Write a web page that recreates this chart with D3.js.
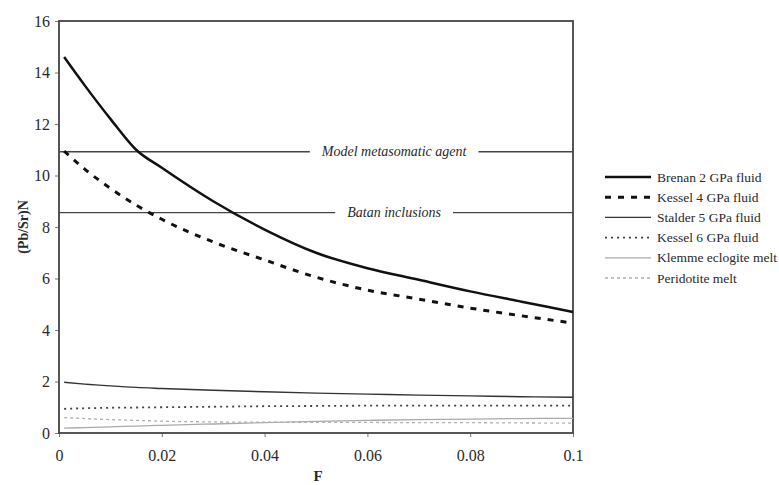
<!DOCTYPE html>
<html>
<head>
<meta charset="utf-8">
<script src="https://cdn.jsdelivr.net/npm/d3@7"></script>
<style>
  body { margin: 0; background: #fff; }
  svg text { font-family: "Liberation Serif", "Times New Roman", "DejaVu Serif", serif; fill: #2a2a2a; }
</style>
</head>
<body>
<svg id="chart" width="779" height="485"></svg>
<script>
// values
const fValues = [0.001, 0.005, 0.01, 0.015, 0.02, 0.03, 0.04, 0.05, 0.06, 0.07, 0.08, 0.09, 0.1];
const brenan2 = [14.6, 13.5, 12.2, 11.0, 10.3, 9.0, 7.9, 7.0, 6.4, 5.95, 5.5, 5.1, 4.7];
const kessel4 = [10.95, 10.25, 9.5, 8.85, 8.3, 7.42, 6.72, 6.05, 5.55, 5.2, 4.85, 4.55, 4.27];
const stalder5 = [1.97, 1.9, 1.83, 1.77, 1.73, 1.66, 1.6, 1.55, 1.51, 1.47, 1.44, 1.41, 1.39];
const kessel6 = [0.94, 0.96, 0.98, 0.99, 1.0, 1.02, 1.04, 1.05, 1.06, 1.06, 1.06, 1.06, 1.06];
const klemme = [0.19, 0.21, 0.24, 0.27, 0.3, 0.35, 0.4, 0.45, 0.49, 0.52, 0.54, 0.56, 0.57];
const peridotite = [0.6, 0.56, 0.52, 0.49, 0.46, 0.43, 0.42, 0.41, 0.41, 0.4, 0.4, 0.39, 0.38];

const seriesNames = ["Brenan 2 GPa fluid", "Kessel 4 GPa fluid", "Stalder 5 GPa fluid",
  "Kessel 6 GPa fluid", "Klemme eclogite melt", "Peridotite melt"];
const seriesValues = [brenan2, kessel4, stalder5, kessel6, klemme, peridotite];

const refNames = ["Model metasomatic agent", "Batan inclusions"];
const refValues = [10.92, 8.56];
const refLabelAt = 0.0652;

const xTicks = [0, 0.02, 0.04, 0.06, 0.08, 0.1];
const yTicks = [0, 2, 4, 6, 8, 10, 12, 14, 16];

const styles = [
  { stroke: "#111", width: 2.5, dash: null },
  { stroke: "#111", width: 3, dash: "6,7" },
  { stroke: "#333", width: 1.4, dash: null },
  { stroke: "#444", width: 1.8, dash: "2,4" },
  { stroke: "#aaa", width: 1.3, dash: null },
  { stroke: "#b0b0b0", width: 1.3, dash: "3,3" }
];

const svg = d3.select('#chart');
const x = d3.scaleLinear().domain([0, 0.1]).range([59, 573]);
const y = d3.scaleLinear().domain([0, 16]).range([433, 21]);

// axes
svg.append("g")
  .attr("transform", "translate(0,433)")
  .call(d3.axisBottom(x).tickValues(xTicks).tickSize(4).tickFormat(d => String(+d.toFixed(2))))
  .call(g => g.select(".domain").remove())
  .call(g => g.selectAll(".tick line").attr("stroke", "#777"))
  .call(g => g.selectAll(".tick text").attr("y", 0).attr("dy", 28).attr("font-family", null).style("font-size", "16px"));

svg.append("g")
  .attr("transform", "translate(59,0)")
  .call(d3.axisLeft(y).tickValues(yTicks).tickSize(4))
  .call(g => g.select(".domain").remove())
  .call(g => g.selectAll(".tick line").attr("stroke", "#777"))
  .call(g => g.selectAll(".tick text").attr("x", -9).attr("font-family", null).style("font-size", "16px"));

svg.selectAll("g").attr("font-family", null);

// plot frame
svg.append("rect")
  .attr("x", x(0)).attr("y", y(16))
  .attr("width", x(0.1) - x(0)).attr("height", y(0) - y(16))
  .attr("fill", "none").attr("stroke", "#444").attr("stroke-width", 1.8);

// reference lines with label gap
refValues.forEach((v, i) => {
  const lbl = svg.append("text")
    .attr("x", x(refLabelAt)).attr("y", y(v) + 4.5)
    .attr("text-anchor", "middle")
    .style("font-style", "italic").style("font-size", "14px")
    .text(refNames[i]);
  const w = lbl.node().getComputedTextLength();
  svg.append("line")
    .attr("x1", x(0)).attr("x2", x(refLabelAt) - w / 2 - 12)
    .attr("y1", y(v)).attr("y2", y(v))
    .attr("stroke", "#444").attr("stroke-width", 1.4);
  svg.append("line")
    .attr("x1", x(refLabelAt) + w / 2 + 12).attr("x2", x(0.1))
    .attr("y1", y(v)).attr("y2", y(v))
    .attr("stroke", "#444").attr("stroke-width", 1.4);
});

// series
const line = d3.line()
  .x((d, i) => x(fValues[i]))
  .y(d => y(d))
  .curve(d3.curveMonotoneX);

seriesValues.forEach((vals, i) => {
  svg.append("path")
    .datum(vals)
    .attr("d", line)
    .attr("fill", "none")
    .attr("stroke", styles[i].stroke)
    .attr("stroke-width", styles[i].width)
    .attr("stroke-dasharray", styles[i].dash);
});

// legend
const legend = svg.append("g");
seriesNames.forEach((name, i) => {
  const ly = 177 + i * 20.2;
  legend.append("line")
    .attr("x1", 605).attr("x2", 651)
    .attr("y1", ly).attr("y2", ly)
    .attr("stroke", styles[i].stroke)
    .attr("stroke-width", styles[i].width)
    .attr("stroke-dasharray", styles[i].dash);
  legend.append("text")
    .attr("x", 657).attr("y", ly + 4.5)
    .style("font-size", "13.5px")
    .text(name);
});

// axis titles
svg.append("text")
  .attr("transform", "translate(28,227) rotate(-90)")
  .attr("text-anchor", "middle")
  .style("font-weight", "bold").style("font-size", "14px")
  .text("(Pb/Sr)N");

svg.append("text")
  .attr("x", 318).attr("y", 481)
  .attr("text-anchor", "middle")
  .style("font-weight", "bold").style("font-size", "15px")
  .text("F");
</script>
</body>
</html>
